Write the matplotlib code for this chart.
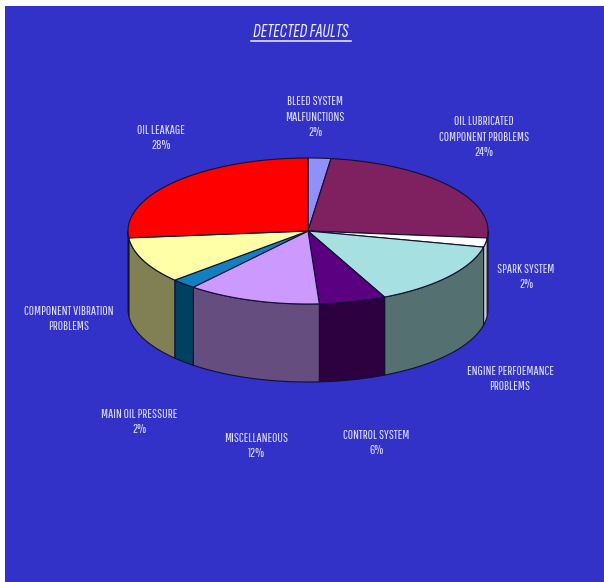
import numpy as np
import matplotlib
matplotlib.use("Agg")
import matplotlib.pyplot as plt

plt.rcParams['font.family'] = ['Pathway Gothic One', 'PT Sans Narrow', 'Archivo Narrow', 'Liberation Sans', 'DejaVu Sans']

# ─── DATA ───────────────────────────────────────────────────────────────
shares = [2, 24, 2, 15, 6, 12, 2, 9, 28]
names = [
    "BLEED SYSTEM\nMALFUNCTIONS",
    "OIL LUBRICATED\nCOMPONENT PROBLEMS",
    "SPARK SYSTEM",
    "ENGINE PERFOEMANCE\nPROBLEMS",
    "CONTROL SYSTEM",
    "MISCELLANEOUS",
    "MAIN OIL PRESSURE",
    "COMPONENT VIBRATION\nPROBLEMS",
    "OIL LEAKAGE",
]
show_share = [True, True, True, False, True, True, True, False, True]
top_colors = ["#9090f8", "#7f2060", "#ffffff", "#a6e0e0", "#5a0080",
              "#cc99ff", "#1080c0", "#ffffa8", "#ff0000"]
side_colors = ["#484880", "#401030", "#c8c8c8", "#547070", "#2d0040",
               "#664d80", "#004060", "#808054", "#800000"]
label_x = [315, 484, 526, 510, 376, 256, 139, 69, 161]
label_y = [117, 137, 277, 379, 443, 446, 422, 319, 138]

# ─── GEOMETRY (pixels) ──────────────────────────────────────────────────
CX, CY = 308, 231
RX, RY = 180, 73
DEPTH = 78
BG = "#3232c8"
# the tilted view squeezes some sectors, share angle -> drawn angle
VIEW_IN = [0, 100, 155, 220, 259.2, 360]
VIEW_OUT = [0, 102, 155, 220, 264.6, 360]


def rim(a0, a1, n=80):
    # angles run clockwise from 12 o'clock, in degrees
    t = np.radians(np.linspace(a0, a1, n))
    return CX + RX * np.sin(t), CY - RY * np.cos(t)


fig = plt.figure(figsize=(6.04, 5.82), dpi=100, facecolor="white")
ax = fig.add_axes([5 / 604, 0, 599 / 604, 576 / 582], facecolor=BG)
ax.set_xlim(5, 604)
ax.set_ylim(582, 6)
ax.set_xticks([])
ax.set_yticks([])
for s in ax.spines.values():
    s.set_visible(False)

edges = np.interp(np.cumsum([0] + shares) * 3.6, VIEW_IN, VIEW_OUT)

# side walls: only the front half of the rim can be seen
for i in range(len(shares)):
    a0, a1 = max(edges[i], 90), min(edges[i + 1], 270)
    if a1 <= a0:
        continue
    x, y = rim(a0, a1)
    ax.fill(np.r_[x, x[::-1]], np.r_[y, y[::-1] + DEPTH],
            facecolor=side_colors[i], edgecolor="#101030", lw=0.8, joinstyle="round")

# top faces
for i in range(len(shares)):
    x, y = rim(edges[i], edges[i + 1])
    ax.fill(np.r_[CX, x], np.r_[CY, y],
            facecolor=top_colors[i], edgecolor="#101030", lw=0.8, joinstyle="round")

# labels
for i, name in enumerate(names):
    txt = f"{name}\n{shares[i]}%" if show_share[i] else name
    ax.text(label_x[i], label_y[i], txt, color="#e4e4f2", fontsize=9.4,
            ha="center", va="center", linespacing=1.45)

ax.text(301, 32, "DETECTED FAULTS", color="#f0f0f8", fontsize=14, style="italic",
        family=['Sofia Sans Extra Condensed', 'Fira Sans Extra Condensed', 'Liberation Sans', 'DejaVu Sans'],
        ha="center", va="center")
ax.plot([251, 351], [41, 41], color="#f0f0f8", lw=1.1)

fig.savefig("out.png", dpi=100)
